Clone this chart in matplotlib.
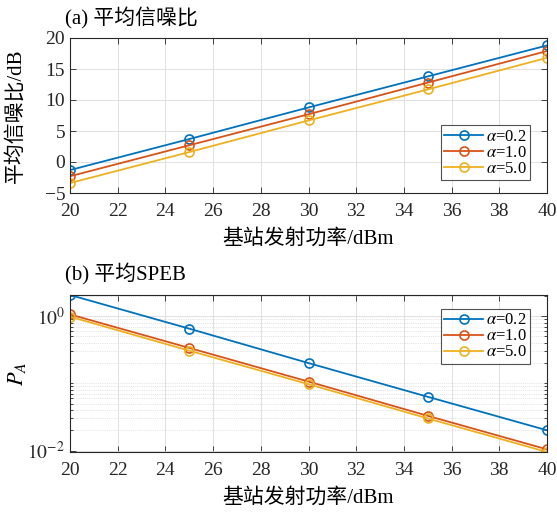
import numpy as np
import matplotlib
matplotlib.use("Agg")
import matplotlib.pyplot as plt
from matplotlib.ticker import FixedLocator, NullFormatter

plt.rcParams['font.family'] = ['Liberation Serif', 'Noto Sans CJK SC', 'DejaVu Sans']
plt.rcParams['mathtext.fontset'] = 'stix'
plt.rcParams['axes.unicode_minus'] = True

# ---- data ----
power_dbm = [20, 25, 30, 35, 40]
labels = [r'$\alpha$=0.2', r'$\alpha$=1.0', r'$\alpha$=5.0']
snr_a02 = [-1.3, 3.7, 8.8, 13.8, 18.8]
snr_a10 = [-2.3, 2.7, 7.7, 12.8, 17.9]
snr_a50 = [-3.4, 1.6, 6.7, 11.7, 16.8]
speb_a02 = [2.06, 0.65, 0.20, 0.063, 0.020]
speb_a10 = [1.06, 0.336, 0.106, 0.0328, 0.0104]
speb_a50 = [0.98, 0.306, 0.097, 0.030, 0.0095]
xticks = [20, 22, 24, 26, 28, 30, 32, 34, 36, 38, 40]
snr_yticks = [-5, 0, 5, 10, 15, 20]
colors = ['#0072BD', '#D95319', '#EDB120']

W, H = 557, 512
fig = plt.figure(figsize=(W / 100, H / 100), dpi=100)

def px_axes(left, top, right, bottom):
    return fig.add_axes([left / W, 1 - bottom / H, (right - left) / W, (bottom - top) / H])

ax1 = px_axes(70, 38, 547, 193)
ax2 = px_axes(70, 295, 547, 452)

FS = 14
LFS = 15

def style(ax):
    ax.tick_params(direction='in', which='both', top=True, right=True,
                   labelsize=FS, length=4, width=0.6, colors='#262626')
    ax.tick_params(axis='x', pad=7)
    ax.tick_params(which='minor', length=2.5)
    for s in ax.spines.values():
        s.set_linewidth(0.8)
        s.set_color('#262626')
    ax.set_xlim(20, 40)
    ax.set_xticks(xticks)
    ax.grid(True, which='major', color='#dcdcdc', linewidth=0.6)
    ax.set_axisbelow(True)
    ax.set_xlabel('基站发射功率/dBm', fontsize=LFS, labelpad=7)

def add_legend(ax, loc, y_px):
    leg = ax.legend(loc=loc, bbox_to_anchor=(530 / W, 1 - y_px / H),
                    bbox_transform=fig.transFigure, fontsize=12, frameon=True,
                    fancybox=False, edgecolor='#262626', handlelength=2.3,
                    handletextpad=0.2, borderpad=0.2, labelspacing=0.0,
                    borderaxespad=0)
    leg.get_frame().set_linewidth(0.8)
    return leg

for ys, c, lab in zip([snr_a02, snr_a10, snr_a50], colors, labels):
    ax1.plot(power_dbm, ys, '-o', color=c, mfc='none', ms=6.5, lw=1.3, mew=1.2, label=lab)
style(ax1)
ax1.set_ylim(-5, 20)
ax1.set_yticks(snr_yticks)
ax1.set_ylabel('平均信噪比/dB', fontsize=LFS)
ax1.yaxis.set_label_coords((26 - 70) / 477, 0.5)
add_legend(ax1, 'lower right', 180)

for ys, c, lab in zip([speb_a02, speb_a10, speb_a50], colors, labels):
    ax2.plot(power_dbm, ys, '-o', color=c, mfc='none', ms=6.5, lw=1.3, mew=1.2, label=lab)
ax2.set_yscale('log')
style(ax2)
allv = speb_a02 + speb_a10 + speb_a50
ax2.set_ylim(min(allv), max(allv))
ax2.yaxis.set_major_locator(FixedLocator([1e-2, 1e0]))
minors = [k * 10.0 ** e for e in (-3, -2, -1, 0) for k in range(1, 10)
          if not (k == 1 and e in (-2, 0))]
ax2.yaxis.set_minor_locator(FixedLocator(minors))
ax2.yaxis.set_minor_formatter(NullFormatter())
ax2.set_yticklabels([r'$10^{-2}$', r'$10^{0}$'])
ax2.grid(True, which='minor', axis='y', color='#cccccc', linewidth=0.5, linestyle=':')
ax2.set_ylabel(r'$P_A$', fontsize=LFS + 1)
ax2.yaxis.set_label_coords((28 - 70) / 477, 0.5)
add_legend(ax2, 'upper right', 309)

fig.text(65 / W, 1 - 18 / H, '(a) 平均信噪比', fontsize=LFS, va='center', ha='left')
fig.text(65 / W, 1 - 274 / H, '(b) 平均SPEB', fontsize=LFS, va='center', ha='left')

fig.savefig('out.png', dpi=100)
